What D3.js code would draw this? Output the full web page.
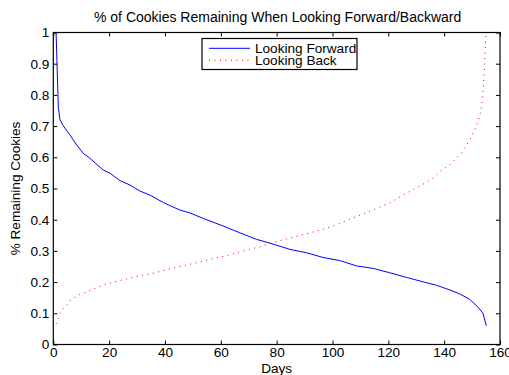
<!DOCTYPE html>
<html>
<head>
<meta charset="utf-8">
<script src="https://cdn.jsdelivr.net/npm/d3@7"></script>
<style>
  html, body { margin: 0; padding: 0; background: #fff; }
  svg { display: block; font-family: "Liberation Sans", Arial, sans-serif; }
</style>
</head>
<body>
<svg id="chart" width="509" height="375"></svg>
<script>
// ---- data ----
const forwardDays   = [1, 1.8, 2.4, 3.8, 6, 8.4, 10.7, 13.1, 17.9, 20.3, 23.9, 27.5, 31, 34.6, 39.4, 45.3, 48.9, 53.7, 60.8, 66.8, 72.8, 78.7, 84.7, 90.7, 96.6, 102.6, 108.6, 114.5, 120.5, 126.5, 132.4, 137.2, 142, 145.6, 149.1, 152.1, 153.9, 155.1];
const forwardValues = [1.0, 0.76, 0.72, 0.698, 0.671, 0.639, 0.613, 0.597, 0.559, 0.549, 0.525, 0.511, 0.492, 0.479, 0.455, 0.431, 0.422, 0.404, 0.380, 0.358, 0.337, 0.322, 0.305, 0.294, 0.279, 0.269, 0.252, 0.244, 0.230, 0.215, 0.201, 0.19, 0.175, 0.162, 0.145, 0.12, 0.1, 0.06];
const backDays   = [1, 1.8, 2.4, 3.6, 5, 6.2, 8, 9.8, 12, 14, 15.9, 17.9, 22.1, 26.3, 30.4, 34.6, 39.4, 43.6, 47.7, 51.9, 56.1, 62.6, 69.2, 75.2, 80, 85.9, 91.9, 96.6, 102, 108.6, 114.5, 120.5, 126.5, 131.9, 135.4, 138.4, 142, 145, 146.2, 149.1, 151.5, 153, 153.7, 154.2, 154.6, 154.9];
const backValues = [0.066, 0.084, 0.1, 0.116, 0.127, 0.143, 0.153, 0.162, 0.168, 0.177, 0.183, 0.191, 0.201, 0.21, 0.22, 0.226, 0.237, 0.246, 0.255, 0.263, 0.273, 0.286, 0.303, 0.316, 0.33, 0.344, 0.358, 0.369, 0.386, 0.41, 0.431, 0.454, 0.485, 0.511, 0.529, 0.554, 0.576, 0.604, 0.613, 0.655, 0.698, 0.741, 0.784, 0.848, 0.922, 0.992];
const xTicks = [0, 20, 40, 60, 80, 100, 120, 140, 160];
const yTicks = [0, 0.1, 0.2, 0.3, 0.4, 0.5, 0.6, 0.7, 0.8, 0.9, 1];
const seriesNames = ["Looking Forward", "Looking Back"];
const titleText = "% of Cookies Remaining When Looking Forward/Backward";
const xLabel = "Days";
const yLabel = "% Remaining Cookies";

// ---- layout ----
const svg = d3.select("#chart");
const L = 53.3, R = 500, T = 32.5, B = 344.5;
const x = d3.scaleLinear().domain([0, 160]).range([L, R]);
const y = d3.scaleLinear().domain([0, 1]).range([B, T]);
const fontSize = 13.6;
const yFmt = d => (d === 0 ? "0" : d === 1 ? "1" : d3.format(".1f")(d));

// clip
svg.append("defs").append("clipPath").attr("id", "clip")
  .append("rect").attr("x", L).attr("y", T).attr("width", R - L).attr("height", B - T);

// lines
const fwd = forwardDays.map((d, i) => [d, forwardValues[i]]);
const back = backDays.map((d, i) => [d, backValues[i]]);
const line = d3.line().x(d => x(d[0])).y(d => y(d[1]));

const g = svg.append("g").attr("clip-path", "url(#clip)");
g.append("path").datum(back).attr("d", line)
  .attr("fill", "none").attr("stroke", "#ff0000").attr("stroke-width", 1)
  .attr("stroke-dasharray", "1,4.5");
g.append("path").datum(fwd).attr("d", line)
  .attr("fill", "none").attr("stroke", "#0000ff").attr("stroke-width", 1);

// axes
function styleAxis(sel, hideText) {
  sel.select(".domain").remove();
  sel.selectAll(".tick line").attr("stroke", "#000").attr("stroke-width", 1);
  sel.selectAll(".tick text").attr("fill", "#000").attr("font-size", fontSize)
    .attr("font-family", "Liberation Sans, Arial, sans-serif");
  if (hideText) sel.selectAll(".tick text").remove();
}
svg.append("g").attr("transform", `translate(0,${B})`)
  .call(d3.axisBottom(x).tickValues(xTicks).tickSizeInner(-4).tickSizeOuter(0).tickPadding(3).tickFormat(d3.format("d")))
  .call(s => styleAxis(s, false));
svg.append("g").attr("transform", `translate(0,${T})`)
  .call(d3.axisTop(x).tickValues(xTicks).tickSizeInner(-4).tickSizeOuter(0))
  .call(s => styleAxis(s, true));
svg.append("g").attr("transform", `translate(${L},0)`)
  .call(d3.axisLeft(y).tickValues(yTicks).tickSizeInner(-4).tickSizeOuter(0).tickPadding(4).tickFormat(yFmt))
  .call(s => styleAxis(s, false));
svg.append("g").attr("transform", `translate(${R},0)`)
  .call(d3.axisRight(y).tickValues(yTicks).tickSizeInner(-4).tickSizeOuter(0))
  .call(s => styleAxis(s, true));

// frame
svg.append("rect").attr("x", L).attr("y", T).attr("width", R - L).attr("height", B - T)
  .attr("fill", "none").attr("stroke", "#000").attr("stroke-width", 1.2);

// title & labels
svg.append("text").attr("x", (L + R) / 2 + 1).attr("y", 22).attr("text-anchor", "middle")
  .attr("font-size", 14).attr("fill", "#000").text(titleText);
svg.append("text").attr("x", (L + R) / 2).attr("y", 373).attr("text-anchor", "middle")
  .attr("font-size", fontSize).attr("fill", "#000").text(xLabel);
svg.append("text").attr("transform", `translate(20,${(T + B) / 2}) rotate(-90)`)
  .attr("text-anchor", "middle").attr("font-size", fontSize).attr("fill", "#000").text(yLabel);

// legend
const lg = svg.append("g");
lg.append("rect").attr("x", 202).attr("y", 38.5).attr("width", 155).attr("height", 31)
  .attr("fill", "#fff").attr("stroke", "#000").attr("stroke-width", 1.2);
const legendStyles = [
  { color: "#0000ff", dash: null },
  { color: "#ff0000", dash: "1,4.5" }
];
seriesNames.forEach((name, i) => {
  const yy = 48.3 + i * 12;
  lg.append("line").attr("x1", 209).attr("x2", 250).attr("y1", yy).attr("y2", yy)
    .attr("stroke", legendStyles[i].color).attr("stroke-width", 1)
    .attr("stroke-dasharray", legendStyles[i].dash);
  lg.append("text").attr("x", 255).attr("y", yy + 4.6).attr("font-size", fontSize)
    .attr("fill", "#000").text(name);
});
</script>
</body>
</html>
